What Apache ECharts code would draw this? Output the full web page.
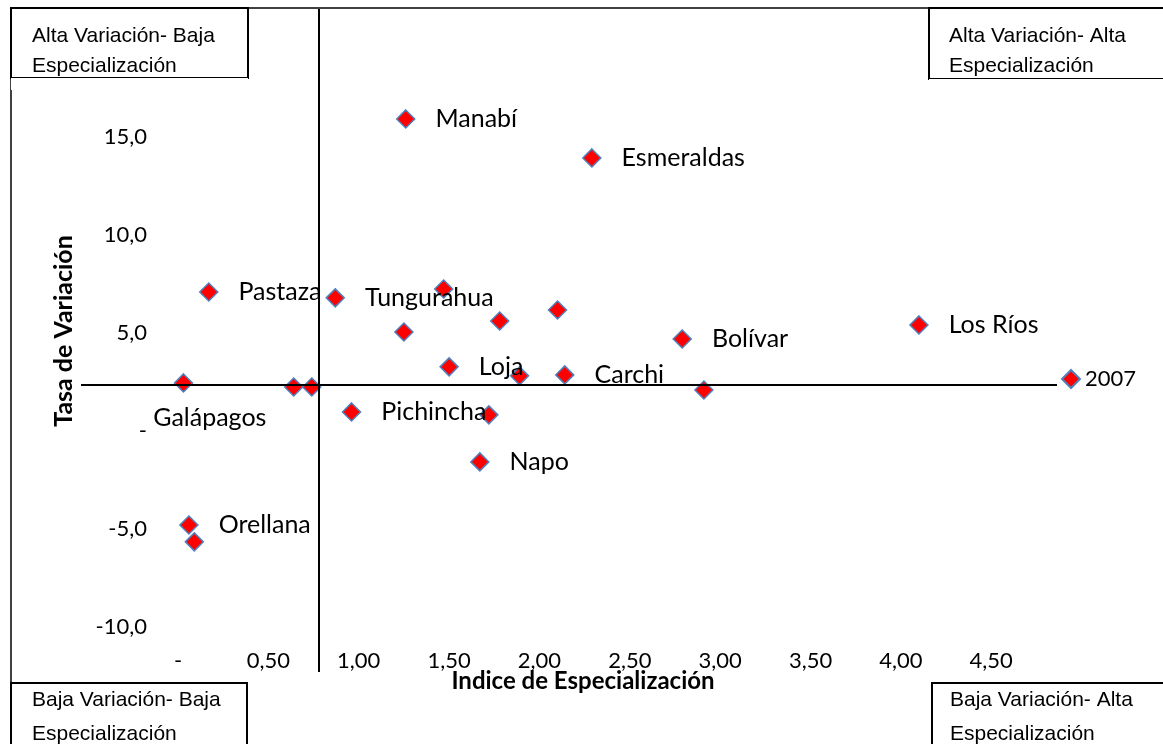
<!DOCTYPE html>
<html>
<head>
<meta charset="utf-8">
<title>Indice de Especialización vs Tasa de Variación</title>
<script src="https://cdn.jsdelivr.net/npm/echarts@6/dist/echarts.min.js"></script>
<style>
  html, body { margin: 0; padding: 0; background: #fff; }
  #chart { width: 1163px; height: 744px; }
</style>
</head>
<body>
<div id="chart"></div>
<script>
// indice de especializacion (x) y tasa de variacion (y), 2007
const provincias = ['Manabí', 'Esmeraldas', 'Pastaza', 'Tungurahua', '', '', '', '', 'Bolívar', 'Los Ríos',
  'Loja', '', 'Carchi', '', 'Galápagos', '', '', 'Pichincha', '', 'Napo', 'Orellana', ''];
const indice = [1.26, 2.29, 0.17, 0.87, 1.47, 1.25, 1.78, 2.10, 2.79, 4.10,
  1.50, 1.89, 2.14, 2.91, 0.03, 0.64, 0.74, 0.96, 1.72, 1.67, 0.06, 0.09];
const tasa = [15.92, 13.93, 7.09, 6.79, 7.24, 5.05, 5.61, 6.17, 4.69, 5.41,
  3.27, 2.81, 2.86, 2.09, 2.45, 2.24, 2.24, 0.97, 0.82, -1.58, -4.80, -5.66];
const xTicks = [0, 0.5, 1, 1.5, 2, 2.5, 3, 3.5, 4, 4.5];
const yTicks = [-10, -5, 0, 5, 10, 15];
const cruceX = 0.775;
const cruceY = 2.35;
const serieNombre = '2007';

const chart = echarts.init(document.getElementById('chart'));

const points = indice.map((x, i) => {
  const item = { value: [x, tasa[i]], name: provincias[i] };
  if (provincias[i] === 'Galápagos') {
    item.label = { offset: [-60, 35] };
  }
  return item;
});

const boxFont = '21px "Liberation Sans", Arial, sans-serif';
function box(x, y, w, h, lines, tx, ty, lh) {
  return [
    { type: 'text', z: 100, style: { x: tx, y: ty, text: lines.join('\n'), font: boxFont, fill: '#000', lineHeight: lh } },
    { type: 'rect', z: 101, shape: { x: x, y: y + h, width: w, height: 12 }, style: { fill: '#fff' } },
    { type: 'rect', z: 99, shape: { x: x, y: y, width: w, height: h }, style: { fill: '#fff', stroke: '#000', lineWidth: 2 } }
  ];
}

const options = {
  animation: false,
  grid: { left: 81, right: 106, top: 8, bottom: 72 },
  legend: {
    data: [serieNombre],
    left: 1056,
    top: 363,
    icon: 'diamond',
    itemWidth: 18,
    itemHeight: 18,
    itemGap: 6,
    textStyle: { color: '#000', fontFamily: 'Lato', fontSize: 22 }
  },
  xAxis: {
    type: 'value',
    min: -0.537,
    max: 4.864,
    axisLine: { show: false },
    axisTick: { show: false },
    splitLine: { show: false },
    axisLabel: {
      customValues: xTicks,
      margin: -22,
      color: '#000',
      fontFamily: 'Lato',
      fontSize: 22,
      formatter: v => (v === 0 ? '-' : v.toFixed(2).replace('.', ','))
    }
  },
  yAxis: {
    type: 'value',
    min: -12.3,
    max: 21.58,
    axisLine: { show: false },
    axisTick: { show: false },
    splitLine: { show: false },
    axisLabel: {
      customValues: yTicks,
      margin: -66,
      color: '#000',
      fontFamily: 'Lato',
      fontSize: 22,
      formatter: v => (v === 0 ? '-' : v.toFixed(1).replace('.', ','))
    }
  },
  series: [
    {
      name: serieNombre,
      type: 'scatter',
      symbol: 'diamond',
      symbolSize: 18,
      itemStyle: { color: '#ff0000', borderColor: '#4f81bd', borderWidth: 1.5, opacity: 1 },
      label: {
        show: true,
        position: 'right',
        distance: 20,
        color: '#000',
        fontFamily: 'Lato',
        fontSize: 25,
        formatter: p => p.name
      },
      data: points,
      markLine: {
        silent: true,
        symbol: ['none', 'none'],
        label: { show: false },
        lineStyle: { color: '#000', width: 2, type: 'solid' },
        data: [{ xAxis: cruceX }, { yAxis: cruceY }]
      }
    }
  ],
  graphic: [
    // marco
    { type: 'line', z: 98, shape: { x1: 10, y1: 8, x2: 1163, y2: 8 }, style: { stroke: '#404040', lineWidth: 2 } },
    { type: 'line', z: 98, shape: { x1: 11, y1: 8, x2: 11, y2: 744 }, style: { stroke: '#404040', lineWidth: 2 } },
    ...box(11, 8, 237, 70, ['Alta Variación- Baja', 'Especialización'], 32, 21, 30),
    ...box(929, 8, 240, 71, ['Alta Variación- Alta', 'Especialización'], 949, 21, 30),
    ...box(11, 683, 236, 70, ['Baja Variación- Baja', 'Especialización'], 32, 683, 34),
    ...box(932, 683, 240, 70, ['Baja Variación- Alta', 'Especialización'], 950, 683, 34),
    {
      type: 'text',
      x: 583,
      y: 681,
      style: { text: 'Indice de Especialización', font: 'bold 24px Lato', fill: '#000', align: 'center', verticalAlign: 'middle' }
    },
    {
      type: 'text',
      x: 64,
      y: 331,
      rotation: Math.PI / 2,
      style: { text: 'Tasa de Variación', font: 'bold 25px Lato', fill: '#000', align: 'center', verticalAlign: 'middle' }
    }
  ]
};

chart.setOption(options);
window.addEventListener('resize', () => {
  if (chart) {
    chart.resize();
  }
});
</script>
</body>
</html>
